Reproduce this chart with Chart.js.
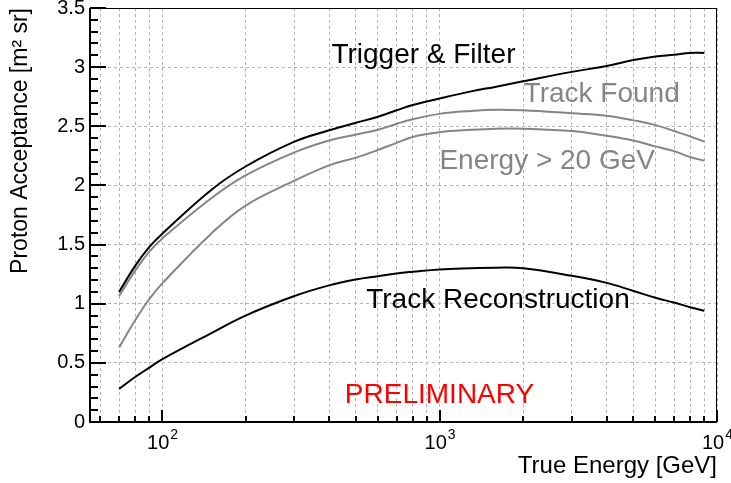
<!DOCTYPE html>
<html><head><meta charset="utf-8">
<script src="https://cdn.jsdelivr.net/npm/chart.js@4/dist/chart.umd.min.js"></script>
<style>html,body{margin:0;padding:0;background:#fff;}canvas{display:block;}</style>
</head><body>
<canvas id="c" width="731" height="483"></canvas>
<script>
// ---- data ----
const energies = [70, 80, 90, 100, 150, 200, 300, 400, 500, 600, 700, 800, 1000, 1300, 1600, 2000, 3000, 4000, 5000, 6000, 7000, 8000, 9000];
const triggerFilter = [1.10, 1.32, 1.48, 1.59, 1.96, 2.16, 2.37, 2.466, 2.53, 2.58, 2.635, 2.68, 2.735, 2.795, 2.835, 2.88, 2.96, 3.01, 3.06, 3.09, 3.105, 3.12, 3.12];
const trackFound = [1.065, 1.28, 1.44, 1.55, 1.89, 2.085, 2.28, 2.38, 2.43, 2.47, 2.52, 2.56, 2.605, 2.63, 2.64, 2.635, 2.61, 2.59, 2.55, 2.51, 2.46, 2.415, 2.37];
const energyAbove20 = [0.63, 0.86, 1.04, 1.17, 1.59, 1.83, 2.04, 2.17, 2.235, 2.30, 2.36, 2.41, 2.45, 2.47, 2.48, 2.48, 2.46, 2.42, 2.38, 2.33, 2.29, 2.24, 2.21];
const trackReco = [0.28, 0.38, 0.46, 0.53, 0.75, 0.90, 1.065, 1.155, 1.205, 1.233, 1.256, 1.27, 1.29, 1.30, 1.305, 1.30, 1.236, 1.176, 1.108, 1.05, 1.01, 0.97, 0.94];

const xTickValues = [60, 70, 80, 90, 100, 200, 300, 400, 500, 600, 700, 800, 900, 1000, 2000, 3000, 4000, 5000, 6000, 7000, 8000, 9000, 10000];
const xMajorTicks = [100, 1000, 10000];
const yTickValues = [0, 0.5, 1, 1.5, 2, 2.5, 3, 3.5];
const xTitle = 'True Energy [GeV]';
const yTitle = 'Proton Acceptance [m\u00B2 sr]';

const seriesNames = ['Trigger & Filter', 'Track Found', 'Energy > 20 GeV', 'Track Reconstruction'];

// text labels placed in data coordinates
const labelTexts = ['Trigger & Filter', 'Track Found', 'Energy > 20 GeV', 'Track Reconstruction', 'PRELIMINARY'];
const labelE = [875, 3840, 2444, 1624, 1000];
const labelV = [3.10, 2.77, 2.20, 1.03, 0.23];

// ---- styles ----
const FONT = "'Liberation Sans', Arial, Helvetica, sans-serif";
const GRAY = '#858585';
const labelColors = ['#000000', GRAY, GRAY, '#000000', '#ff0000'];
const seriesColors = ['#000000', GRAY, GRAY, '#000000'];
const seriesData = [triggerFilter, trackFound, energyAbove20, trackReco];

Chart.defaults.font.family = FONT;

const rootAxes = {
  id: 'rootAxes',
  afterDraw(chart) {
    const {ctx, chartArea: a, scales: {x, y}} = chart;
    ctx.save();
    // frame
    ctx.strokeStyle = '#000';
    ctx.lineWidth = 1;
    ctx.strokeRect(a.left + 0.5, a.top + 0.5, a.right - a.left - 1, a.bottom - a.top - 1);
    ctx.lineWidth = 2;
    ctx.beginPath();
    ctx.moveTo(a.left, a.top); ctx.lineTo(a.left, a.bottom + 1);
    ctx.moveTo(a.left - 1, a.bottom); ctx.lineTo(a.right, a.bottom);
    ctx.stroke();
    // y ticks (inside)
    ctx.lineWidth = 2;
    ctx.beginPath();
    for (let i = 0; i <= 35; i++) {
      const py = Math.round(y.getPixelForValue(i / 10));
      const len = (i % 5 === 0) ? 16 : 8;
      ctx.moveTo(a.left, py); ctx.lineTo(a.left + len, py);
    }
    ctx.stroke();
    // x ticks (inside)
    ctx.beginPath();
    xTickValues.forEach(v => {
      const px = Math.round(x.getPixelForValue(v));
      const len = xMajorTicks.includes(v) ? 12 : 6;
      ctx.moveTo(px, a.bottom); ctx.lineTo(px, a.bottom - len);
    });
    ctx.stroke();
    // x tick labels 10^n
    ctx.fillStyle = '#000';
    ctx.textBaseline = 'alphabetic';
    ctx.textAlign = 'left';
    xMajorTicks.forEach(v => {
      const px = x.getPixelForValue(v);
      const base = '10', expo = String(Math.round(Math.log10(v)));
      ctx.font = '20px ' + FONT;
      const wb = ctx.measureText(base).width;
      ctx.font = '14px ' + FONT;
      const we = ctx.measureText(expo).width;
      const start = px - (wb + we) / 2;
      ctx.font = '20px ' + FONT;
      ctx.fillText(base, start, a.bottom + 27);
      ctx.font = '14px ' + FONT;
      ctx.fillText(expo, start + wb + 1, a.bottom + 17);
    });
    // annotation texts
    ctx.font = '28px ' + FONT;
    ctx.textAlign = 'center';
    ctx.textBaseline = 'middle';
    labelTexts.forEach((t, i) => {
      ctx.fillStyle = labelColors[i];
      ctx.fillText(t, x.getPixelForValue(labelE[i]), y.getPixelForValue(labelV[i]));
    });
    ctx.restore();
  }
};

new Chart(document.getElementById('c'), {
  type: 'line',
  data: {
    labels: energies,
    datasets: seriesNames.map((n, i) => ({
      label: n,
      data: energies.map((e, k) => ({x: e, y: seriesData[i][k]})),
      borderColor: seriesColors[i],
      borderWidth: 2,
      pointRadius: 0,
      fill: false,
      tension: 0.4
    }))
  },
  options: {
    responsive: false,
    animation: false,
    devicePixelRatio: 1,
    layout: {padding: {top: 8, right: 14, left: 0, bottom: 0}},
    plugins: {legend: {display: false}, tooltip: {enabled: false}},
    scales: {
      x: {
        type: 'logarithmic',
        min: 55, max: 10000,
        afterBuildTicks(scale) { scale.ticks = xTickValues.map(v => ({value: v})); },
        afterFit(scale) { scale.height = 61; scale.paddingLeft = 0; scale.paddingRight = 0; },
        ticks: {callback: () => '', autoSkip: false, maxRotation: 0},
        grid: {color: '#b4b4b4', lineWidth: 1, drawTicks: false},
        border: {display: false, dash: [3, 3]},
        title: {display: true, text: xTitle, align: 'end', color: '#000',
                font: {size: 24, family: FONT}, padding: {top: 0, bottom: 2}}
      },
      y: {
        min: 0, max: 3.5,
        afterBuildTicks(scale) { scale.ticks = yTickValues.map(v => ({value: v})); },
        afterFit(scale) { scale.width = 90; scale.paddingTop = 0; scale.paddingBottom = 0; },
        ticks: {color: '#000', font: {size: 20, family: FONT}, padding: 5,
                callback: v => String(Number(v))},
        grid: {color: '#b4b4b4', lineWidth: 1, drawTicks: false},
        border: {display: false, dash: [3, 3]},
        title: {display: true, text: yTitle, align: 'end', color: '#000',
                font: {size: 23, family: FONT}, padding: {top: 7, bottom: 0}}
      }
    }
  },
  plugins: [rootAxes]
});
</script>
</body></html>
